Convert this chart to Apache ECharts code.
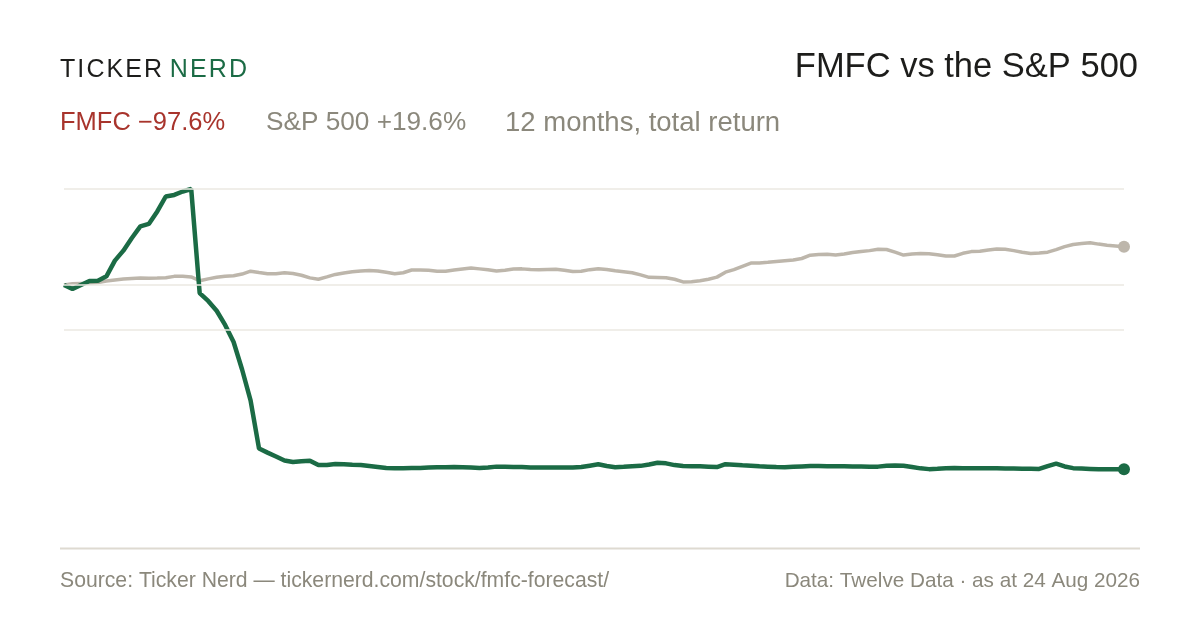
<!DOCTYPE html>
<html>
<head>
<meta charset="utf-8">
<script src="https://cdn.jsdelivr.net/npm/echarts@6/dist/echarts.min.js"></script>
<style>
  html, body { margin: 0; padding: 0; background: #fff; }
  #chart { width: 1200px; height: 630px; }
</style>
</head>
<body>
<div id="chart"></div>
<script>
// 12 months, total return in %, one reading about every second trading day
const fmfcReturn = [
  0, -2.1, 0, 2.1, 2.2, 4.5, 12.7, 17.9, 24.5, 30.5, 31.8, 38.3, 46.1, 46.9, 48.7, 50.0,
  -4.2, -8.3, -13.4, -20.8, -29.7, -44.0, -60.1, -85.2, -87.3, -89.3, -91.4, -92.2, -91.8, -91.5,
  -93.8, -93.8, -93.2, -93.3, -93.6, -93.8, -94.3, -94.8, -95.3, -95.5, -95.4, -95.3, -95.3, -95.1,
  -94.9, -94.9, -94.8, -94.9, -95.1, -95.3, -95.0, -94.6, -94.7, -94.8, -94.8, -95.0, -95.1, -95.1,
  -95.0, -95.0, -95.1, -94.8, -94.1, -93.4, -94.3, -94.9, -94.7, -94.4, -94.2, -93.5, -92.6, -92.9,
  -93.8, -94.3, -94.4, -94.4, -94.6, -94.8, -93.3, -93.6, -93.9, -94.1, -94.4, -94.6, -94.8, -94.9,
  -94.7, -94.5, -94.3, -94.3, -94.4, -94.4, -94.4, -94.5, -94.5, -94.6, -94.6, -94.2, -94.0, -94.1,
  -94.8, -95.5, -95.9, -95.7, -95.4, -95.3, -95.4, -95.4, -95.4, -95.5, -95.5, -95.6, -95.6, -95.7,
  -95.7, -95.8, -94.3, -93.0, -94.5, -95.4, -95.6, -95.8, -96.0, -96.0, -96.0, -96.0
];
const spxReturn = [
  0, 0.7, 0.8, 0.9, 1.3, 2.1, 2.6, 3.1, 3.4, 3.6, 3.5, 3.6, 3.8, 4.5, 4.6, 4.2,
  2.2, 3.2, 4.0, 4.6, 4.8, 5.7, 7.2, 6.5, 5.9, 5.9, 6.4, 6.0, 5.1, 3.7,
  3.0, 4.2, 5.5, 6.3, 6.9, 7.3, 7.6, 7.3, 6.6, 5.9, 6.4, 7.8, 7.8, 7.7,
  7.2, 7.2, 7.8, 8.3, 8.8, 8.4, 7.9, 7.3, 7.7, 8.3, 8.4, 8.1, 8.0, 8.1,
  8.2, 7.7, 7.0, 7.2, 8.0, 8.5, 8.1, 7.4, 6.9, 6.4, 5.3, 4.0, 3.9, 3.8,
  3.0, 1.6, 1.7, 2.2, 3.0, 4.1, 6.7, 8.0, 9.7, 11.4, 11.5, 11.8, 12.2, 12.6,
  13.0, 13.8, 15.5, 15.9, 16.0, 15.6, 16.1, 16.9, 17.5, 17.9, 18.6, 18.5, 17.1, 15.6,
  16.2, 16.4, 16.3, 15.8, 15.1, 15.1, 16.5, 17.4, 17.6, 18.2, 18.8, 18.6, 17.9, 17.1,
  16.4, 16.7, 17.1, 18.4, 20.0, 21.1, 21.6, 22.0, 21.3, 20.7, 20.3, 19.9
];
const sampleIndex = fmfcReturn.map((_, i) => i);
const gridValues = [50, 0, -23.5];

const FONT = '"Liberation Sans", Arial, sans-serif';
const GREEN = '#1b6b45';
const SAND = '#bdb6ab';
const MUTED = '#8b887c';
const INK = '#1d1d1b';

// the logo is letter-spaced, so every letter gets a little padding
function spaced(word, style) {
  return word.split('').map(ch => '{' + style + '|' + ch + '}').join('');
}

// only the last reading gets a dot
function endDot(size, count) {
  return (val, params) => (params.dataIndex === count - 1 ? size : 0);
}

const chart = echarts.init(document.getElementById('chart'), null, { renderer: 'canvas' });

chart.setOption({
  animation: false,
  backgroundColor: '#ffffff',
  textStyle: { fontFamily: FONT },
  grid: { left: 64, right: 76, top: 169.8, height: 326.4, containLabel: false },
  xAxis: {
    type: 'category',
    data: sampleIndex,
    boundaryGap: false,
    axisLine: { show: false },
    axisTick: { show: false },
    axisLabel: { show: false },
    splitLine: { show: false }
  },
  yAxis: {
    type: 'value',
    min: -110,
    max: 60,
    axisLine: { show: false },
    axisTick: { show: false },
    axisLabel: { show: false },
    splitLine: { show: false }
  },
  graphic: [
    {
      type: 'text', x: 60, y: 70,
      style: {
        text: spaced('TICKER', 'a') + '{s| }' + spaced('NERD', 'b'),
        verticalAlign: 'middle',
        rich: {
          a: { fontFamily: FONT, fontSize: 25, fill: INK, padding: [0, 2.1, 0, 0] },
          b: { fontFamily: FONT, fontSize: 25, fill: GREEN, padding: [0, 2.1, 0, 0] },
          s: { fontFamily: FONT, fontSize: 20, fill: INK, padding: [0, 0, 0, 0] }
        }
      }
    },
    {
      type: 'text', x: 1138, y: 67,
      style: { text: 'FMFC vs the S&P 500', fontFamily: FONT, fontSize: 34.5, fill: INK, align: 'right', verticalAlign: 'middle' }
    },
    {
      type: 'text', x: 60, y: 123,
      style: { text: 'FMFC −97.6%', fontFamily: FONT, fontSize: 25.5, fill: '#a8342c', verticalAlign: 'middle' }
    },
    {
      type: 'text', x: 266, y: 123,
      style: { text: 'S&P 500 +19.6%', fontFamily: FONT, fontSize: 26.2, fill: MUTED, verticalAlign: 'middle' }
    },
    {
      type: 'text', x: 505, y: 123,
      style: { text: '12 months, total return', fontFamily: FONT, fontSize: 27.5, fill: MUTED, verticalAlign: 'middle' }
    },
    {
      type: 'line',
      shape: { x1: 60, y1: 548.5, x2: 1140, y2: 548.5 },
      style: { stroke: '#dedad1', lineWidth: 2 }
    },
    {
      type: 'text', x: 60, y: 581,
      style: { text: 'Source: Ticker Nerd — tickernerd.com/stock/fmfc-forecast/', fontFamily: FONT, fontSize: 21.2, fill: MUTED, verticalAlign: 'middle' }
    },
    {
      type: 'text', x: 1140, y: 581,
      style: { text: 'Data: Twelve Data · as at 24 Aug 2026', fontFamily: FONT, fontSize: 20.7, fill: MUTED, align: 'right', verticalAlign: 'middle' }
    }
  ],
  series: [
    {
      name: 'S&P 500',
      type: 'line',
      data: spxReturn,
      symbol: 'circle',
      symbolSize: endDot(12, spxReturn.length),
      showSymbol: true,
      showAllSymbol: true,
      clip: false,
      lineStyle: { color: SAND, width: 3.5 },
      itemStyle: { color: SAND },
      markLine: {
        silent: true,
        symbol: 'none',
        label: { show: false },
        lineStyle: { color: '#ebe8e2', width: 1.5, type: 'solid' },
        data: gridValues.map(v => ({ yAxis: v }))
      },
      z: 2
    },
    {
      name: 'FMFC',
      type: 'line',
      data: fmfcReturn,
      symbol: 'circle',
      symbolSize: endDot(12, fmfcReturn.length),
      showSymbol: true,
      showAllSymbol: true,
      clip: false,
      lineStyle: { color: GREEN, width: 4.5 },
      itemStyle: { color: GREEN },
      z: 3
    }
  ]
});
</script>
</body>
</html>
